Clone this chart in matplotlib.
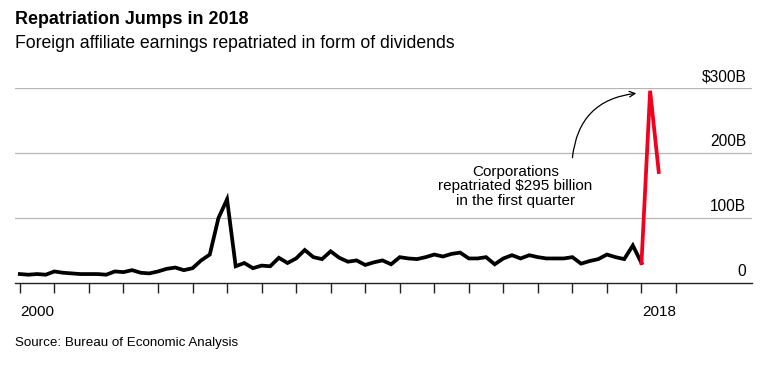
import matplotlib
matplotlib.use('Agg')
import matplotlib.pyplot as plt
import matplotlib.transforms as mtransforms
import pandas as pd

plt.rcParams['font.family'] = ['Liberation Sans', 'DejaVu Sans']

# quarterly dividends repatriated, $ billions (1999Q4 .. 2017Q4)
quarters = pd.period_range('1999Q4', '2017Q4', freq='Q')
values = [13, 12, 13, 12, 17, 15, 14, 13, 13, 13,
          12, 17, 16, 19, 15, 14, 17, 21, 23, 19,
          22, 34, 43, 99, 128, 25, 30, 22, 26, 25,
          38, 30, 37, 50, 39, 36, 48, 38, 32, 34,
          27, 31, 34, 28, 39, 37, 36, 39, 43, 40,
          44, 46, 37, 37, 39, 28, 37, 42, 37, 42,
          39, 37, 37, 37, 39, 29, 33, 36, 43, 39,
          36, 57, 30]
# 2017Q4 (link) + 2018Q1, 2018Q2
red_quarters = pd.period_range('2017Q4', '2018Q2', freq='Q')
red_values = [30, 295, 170]

y_ticks = [0, 100, 200, 300]
y_labels = ['0', '100B', '200B', '$300B']
year_labels = {2000: '2000', 2018: '2018'}


def qpos(periods):
    # plot each quarter at its end
    return [p.year + p.quarter / 4 for p in periods]


fig = plt.figure(figsize=(7.78, 3.68), dpi=100)
ax = fig.add_axes([15 / 778, (368 - 282.5) / 368, 737 / 778, 195 / 368])

ax.plot(qpos(quarters), values, color='black', lw=2.7, solid_joinstyle='miter')
ax.plot(qpos(red_quarters), red_values, color='#f2001d', lw=2.7, solid_joinstyle='miter')

ax.set_xlim(1999.86, 2021.2)
ax.set_ylim(0, 300)

for s in ['top', 'right', 'left']:
    ax.spines[s].set_visible(False)
ax.spines['bottom'].set_color('#222222')
ax.spines['bottom'].set_linewidth(1)

for v in y_ticks[1:]:
    ax.axhline(v, color='#b5b5b5', lw=0.9, zorder=0)

ax.set_yticks([])
ax.set_xticks(range(2000, 2020))
ax.set_xticklabels([])
ax.tick_params(axis='x', which='major', length=7.5, width=1, color='#222222', direction='out')
ax.set_xticks([y + 0.5 for y in year_labels], minor=True)
ax.set_xticklabels(list(year_labels.values()), minor=True, fontsize=11)
ax.tick_params(axis='x', which='minor', length=0, pad=16)

trans = mtransforms.blended_transform_factory(ax.transAxes, ax.transData)
for v, lbl in zip(y_ticks, y_labels):
    ax.annotate(lbl, xy=(1.0, v), xycoords=trans, xytext=(-4, 2.5),
                textcoords='offset points', ha='right', va='bottom', fontsize=11.2)

ax.text(2014.35, 148, 'Corporations\nrepatriated $295 billion\nin the first quarter',
        ha='center', va='center', fontsize=11, linespacing=1.02)
ax.annotate('', xy=(2017.85, 291), xytext=(2016.0, 192),
            arrowprops=dict(arrowstyle='->', color='black', lw=0.9,
                            connectionstyle='arc3,rad=-0.4', shrinkA=0, shrinkB=0))

fig.text(15 / 778, 1 - 20 / 368, 'Repatriation Jumps in 2018', fontsize=12.9,
         fontweight='bold', va='center', ha='left')
fig.text(15 / 778, 1 - 44 / 368, 'Foreign affiliate earnings repatriated in form of dividends',
         fontsize=12.7, va='center', ha='left')
fig.text(15 / 778, 1 - 343 / 368, 'Source: Bureau of Economic Analysis',
         fontsize=9.6, va='center', ha='left')

fig.savefig('out.png', dpi=100)
